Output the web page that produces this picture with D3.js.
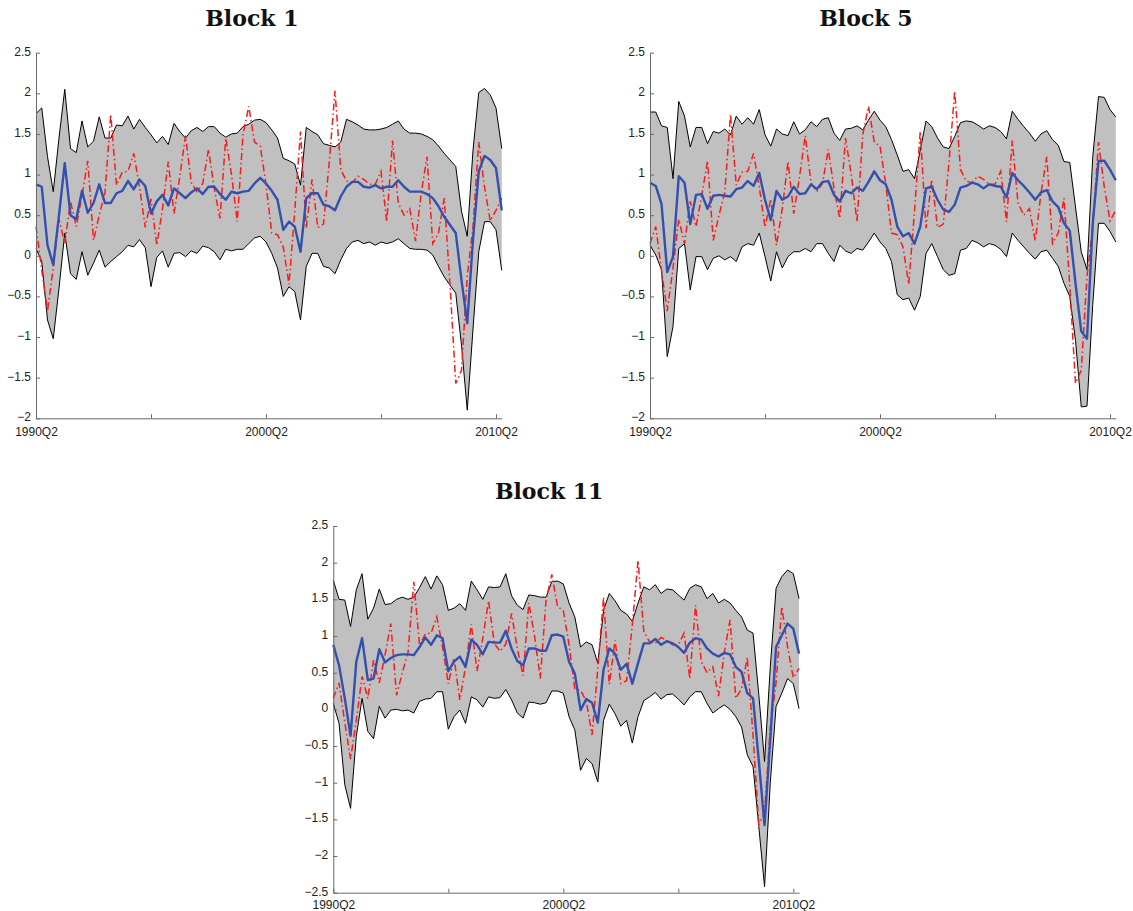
<!DOCTYPE html>
<html>
<head>
<meta charset="utf-8">
<script src="https://cdn.jsdelivr.net/npm/d3@7"></script>
<style>
  body { margin: 0; background: #fff; }
  svg { display: block; }
</style>
</head>
<body>
<div id="chart"></div>
<script>
// quarterly sample: 1990Q2 .. 2010Q3 (82 quarters)
const nQuarters = 82;
const tickIndex = [0, 20, 40, 60, 80];
const tickLabels = ["1990Q2", "", "2000Q2", "", "2010Q2"];

// realised series, 1990Q2 .. 2010Q4 (Block 1 is plotted one quarter ahead)
const actual = [
  0.15, 0.36, -0.18, -0.68, -0.15, 0.45, 0.15, 0.67, 0.36, 0.74,
  1.17, 0.19, 0.50, 0.78, 1.74, 0.87, 1.03, 1.04, 1.26, 0.85,
  0.35, 0.70, 0.13, 0.58, 1.16, 0.52, 0.97, 1.48, 0.90, 0.79,
  0.89, 1.31, 0.83, 0.46, 1.45, 1.00, 0.42, 1.49, 1.84, 1.40,
  1.35, 0.88, 0.28, 0.26, 0.11, -0.35, 0.55, 1.53, 0.34, 0.94,
  0.35, 0.39, 1.15, 2.03, 1.06, 0.92, 0.90, 0.98, 0.94, 0.88,
  0.88, 1.04, 0.42, 1.42, 0.65, 0.50, 0.58, 0.18, 0.77, 1.22,
  0.15, 0.28, 0.71, -0.36, -1.57, -1.41, -0.25, 0.36, 1.40, 0.85,
  0.43, 0.56, 0.71
];

// Block 1
const upper1 = [
  1.75, 1.82, 1.22, 0.79, 1.45, 2.05, 1.32, 1.27, 1.66, 1.34,
  1.41, 1.71, 1.45, 1.45, 1.61, 1.60, 1.72, 1.56, 1.68, 1.58,
  1.49, 1.39, 1.47, 1.37, 1.63, 1.53, 1.45, 1.54, 1.58, 1.53,
  1.59, 1.59, 1.51, 1.46, 1.50, 1.51, 1.59, 1.62, 1.67, 1.68,
  1.64, 1.55, 1.45, 1.20, 1.17, 1.13, 0.87, 1.58, 1.53, 1.49,
  1.38, 1.36, 1.34, 1.40, 1.68, 1.65, 1.61, 1.56, 1.55, 1.55,
  1.56, 1.58, 1.62, 1.66, 1.56, 1.51, 1.51, 1.50, 1.47, 1.43,
  1.35, 1.26, 1.18, 1.10, 0.55, 0.24, 1.30, 2.01, 2.06, 1.98,
  1.82, 1.32
];
const lower1 = [
  0.09, -0.07, -0.79, -1.02, -0.40, 0.28, -0.22, -0.29, 0.05, -0.24,
  -0.09, 0.07, -0.14, -0.07, -0.01, 0.05, 0.13, 0.11, 0.20, 0.10,
  -0.38, -0.02, 0.06, -0.14, 0.03, 0.04, -0.01, 0.06, 0.03, 0.12,
  0.10, 0.05, -0.05, 0.08, 0.06, 0.08, 0.08, 0.15, 0.22, 0.24,
  0.17, 0.03, -0.15, -0.50, -0.38, -0.44, -0.79, -0.13, 0.03, 0.03,
  -0.13, -0.15, -0.22, -0.05, 0.09, 0.17, 0.19, 0.15, 0.17, 0.13,
  0.17, 0.15, 0.17, 0.21, 0.15, 0.09, 0.08, 0.08, 0.07, 0.01,
  -0.13, -0.26, -0.36, -0.46, -1.10, -1.90, -0.90, 0.05, 0.42, 0.42,
  0.32, -0.18
];
const median1 = [
  0.88, 0.85, 0.13, -0.11, 0.50, 1.14, 0.50, 0.45, 0.80, 0.53,
  0.65, 0.88, 0.65, 0.65, 0.77, 0.80, 0.92, 0.82, 0.94, 0.86,
  0.52, 0.67, 0.75, 0.62, 0.83, 0.77, 0.71, 0.78, 0.83, 0.76,
  0.85, 0.85, 0.76, 0.69, 0.79, 0.77, 0.79, 0.80, 0.89, 0.96,
  0.89, 0.80, 0.69, 0.32, 0.42, 0.36, 0.05, 0.71, 0.77, 0.77,
  0.63, 0.61, 0.56, 0.73, 0.85, 0.91, 0.91, 0.85, 0.84, 0.87,
  0.83, 0.85, 0.85, 0.93, 0.85, 0.79, 0.79, 0.79, 0.76, 0.71,
  0.61, 0.48, 0.38, 0.28, -0.30, -0.83, 0.20, 1.04, 1.23, 1.18,
  1.08, 0.56
];

// Block 5
const upper5 = [
  1.77, 1.77, 1.60, 1.58, 0.95, 1.90, 1.72, 1.34, 1.58, 1.58,
  1.38, 1.53, 1.51, 1.56, 1.49, 1.72, 1.62, 1.70, 1.62, 1.80,
  1.49, 1.35, 1.56, 1.50, 1.48, 1.65, 1.50, 1.55, 1.65, 1.59,
  1.68, 1.70, 1.51, 1.42, 1.56, 1.57, 1.60, 1.55, 1.67, 1.78,
  1.67, 1.59, 1.43, 1.24, 1.04, 1.06, 0.95, 1.30, 1.66, 1.59,
  1.45, 1.34, 1.32, 1.47, 1.64, 1.66, 1.65, 1.61, 1.56, 1.60,
  1.58, 1.53, 1.44, 1.78, 1.68, 1.59, 1.51, 1.41, 1.50, 1.54,
  1.43, 1.36, 1.16, 1.15, 0.60, 0.05, -0.17, 1.22, 1.96, 1.95,
  1.80, 1.71
];
const lower5 = [
  0.13, 0.01, -0.17, -1.24, -0.87, 0.09, 0.15, -0.42, -0.01, -0.01,
  -0.17, -0.03, 0.00, -0.05, -0.01, -0.07, 0.11, 0.15, 0.13, 0.28,
  -0.01, -0.31, 0.05, -0.15, -0.01, 0.05, 0.05, 0.09, 0.05, 0.15,
  0.15, 0.03, -0.07, 0.13, 0.06, 0.03, 0.09, 0.07, 0.17, 0.28,
  0.17, 0.09, -0.07, -0.48, -0.54, -0.52, -0.67, -0.50, 0.03, 0.15,
  -0.01, -0.17, -0.24, -0.22, 0.07, 0.09, 0.19, 0.16, 0.11, 0.15,
  0.13, 0.08, -0.01, 0.28, 0.19, 0.11, 0.03, -0.04, 0.05, 0.07,
  -0.03, -0.13, -0.34, -0.50, -1.04, -1.86, -1.85, -0.60, 0.40, 0.40,
  0.30, 0.17
];
const median5 = [
  0.90, 0.86, 0.64, -0.20, -0.01, 0.98, 0.90, 0.39, 0.75, 0.76,
  0.58, 0.74, 0.75, 0.74, 0.73, 0.82, 0.84, 0.92, 0.86, 1.02,
  0.69, 0.44, 0.80, 0.69, 0.73, 0.85, 0.76, 0.77, 0.88, 0.82,
  0.91, 0.92, 0.75, 0.67, 0.80, 0.77, 0.84, 0.80, 0.91, 1.04,
  0.93, 0.88, 0.69, 0.36, 0.24, 0.28, 0.15, 0.36, 0.83, 0.85,
  0.69, 0.57, 0.54, 0.63, 0.84, 0.86, 0.90, 0.88, 0.83, 0.88,
  0.86, 0.85, 0.72, 1.02, 0.93, 0.86, 0.78, 0.69, 0.78, 0.81,
  0.67, 0.60, 0.40, 0.31, -0.34, -0.93, -1.02, 0.40, 1.17, 1.17,
  1.06, 0.93
];

// Block 11
const upper11 = [
  1.76, 1.50, 1.49, 1.13, 1.63, 1.85, 1.23, 1.38, 1.64, 1.43,
  1.44, 1.50, 1.53, 1.50, 1.53, 1.66, 1.81, 1.64, 1.82, 1.70,
  1.35, 1.38, 1.44, 1.35, 1.75, 1.63, 1.50, 1.67, 1.66, 1.67,
  1.85, 1.55, 1.42, 1.36, 1.56, 1.55, 1.53, 1.53, 1.74, 1.75,
  1.71, 1.45, 1.26, 0.85, 0.92, 0.88, 0.63, 1.35, 1.58, 1.48,
  1.35, 1.30, 1.20, 1.45, 1.67, 1.63, 1.70, 1.58, 1.64, 1.63,
  1.56, 1.49, 1.65, 1.70, 1.67, 1.51, 1.58, 1.45, 1.50, 1.45,
  1.35, 1.26, 1.08, 1.04, 0.20, -0.71, 0.58, 1.65, 1.81, 1.90,
  1.85, 1.51
];
const lower11 = [
  0.08, -0.19, -1.03, -1.35, -0.37, 0.15, -0.30, -0.40, 0.04, -0.12,
  -0.01, 0.00, -0.02, -0.01, -0.05, 0.11, 0.14, 0.15, 0.24, 0.24,
  -0.27, -0.10, -0.01, -0.19, 0.17, 0.13, 0.03, 0.17, 0.15, 0.16,
  0.27, 0.13, -0.05, -0.12, 0.10, 0.09, 0.07, 0.09, 0.25, 0.25,
  0.22, -0.10, -0.28, -0.83, -0.67, -0.74, -0.99, -0.15, 0.07, -0.06,
  -0.23, -0.15, -0.46, -0.10, 0.12, 0.17, 0.23, 0.14, 0.20, 0.21,
  0.14, 0.06, 0.17, 0.24, 0.24, 0.08, -0.05, 0.01, 0.06, 0.00,
  -0.10, -0.24, -0.62, -0.78, -1.60, -2.42, -1.00, 0.04, 0.22, 0.42,
  0.35, 0.01
];
const median11 = [
  0.88, 0.60, 0.15, -0.36, 0.65, 0.97, 0.40, 0.42, 0.82, 0.64,
  0.70, 0.74, 0.75, 0.75, 0.74, 0.85, 0.98, 0.88, 1.01, 0.97,
  0.52, 0.65, 0.72, 0.58, 0.95, 0.88, 0.75, 0.92, 0.91, 0.91,
  1.07, 0.83, 0.66, 0.60, 0.83, 0.83, 0.80, 0.80, 1.01, 1.02,
  0.99, 0.65, 0.49, -0.01, 0.14, 0.09, -0.18, 0.54, 0.83, 0.76,
  0.54, 0.62, 0.35, 0.63, 0.90, 0.90, 0.96, 0.88, 0.93, 0.90,
  0.85, 0.77, 0.91, 0.97, 0.95, 0.83, 0.76, 0.72, 0.77, 0.75,
  0.58, 0.51, 0.22, 0.15, -0.70, -1.58, -0.40, 0.85, 1.01, 1.17,
  1.10, 0.76
];

// layout of the three axes (pixels)
const panels = [
  { title: "Block 1",  upper: upper1,  lower: lower1,  median: median1,  lead: 1,
    left: 36,    top: 52.7, bottom: 418.3, yDomain: [-2, 2.5],   titleY: 26,  xPad: 9.5 },
  { title: "Block 5",  upper: upper5,  lower: lower5,  median: median5,  lead: 0,
    left: 650,   top: 52.7, bottom: 418.3, yDomain: [-2, 2.5],   titleY: 26,  xPad: 9.5 },
  { title: "Block 11", upper: upper11, lower: lower11, median: median11, lead: 0,
    left: 333.3, top: 526,  bottom: 892.7, yDomain: [-2.5, 2.5], titleY: 499, xPad: 7.3 }
];
const stepPx = 5.75;

const width = 1133, height = 911;
const svg = d3.select("#chart").append("svg")
  .attr("width", width)
  .attr("height", height)
  .attr("viewBox", `0 0 ${width} ${height}`);

const fmt = v => (v < 0 ? "\u2212" : "") + d3.format("")(Math.abs(v));

panels.forEach(p => {
  const x = d3.scaleLinear()
    .domain([0, nQuarters - 1])
    .range([p.left, p.left + stepPx * (nQuarters - 1)]);
  const y = d3.scaleLinear().domain(p.yDomain).range([p.bottom, p.top]);

  const rows = d3.range(nQuarters).map(i => ({
    i: i,
    up: p.upper[i],
    lo: p.lower[i],
    med: p.median[i],
    act: actual[i + p.lead]
  }));

  const g = svg.append("g");

  // band
  g.append("path")
    .datum(rows)
    .attr("fill", "#c0c0c0")
    .attr("d", d3.area().x(d => x(d.i)).y0(d => y(d.lo)).y1(d => y(d.up)));

  ["up", "lo"].forEach(k => {
    g.append("path")
      .datum(rows)
      .attr("fill", "none")
      .attr("stroke", "#000")
      .attr("stroke-width", 1)
      .attr("d", d3.line().x(d => x(d.i)).y(d => y(d[k])));
  });

  // realised
  g.append("path")
    .datum(rows)
    .attr("fill", "none")
    .attr("stroke", "#ff1a1a")
    .attr("stroke-width", 1.5)
    .attr("stroke-dasharray", "7,3,1.5,3")
    .attr("d", d3.line().x(d => x(d.i)).y(d => y(d.act)));

  // median
  g.append("path")
    .datum(rows)
    .attr("fill", "none")
    .attr("stroke", "#3450ad")
    .attr("stroke-width", 2.4)
    .attr("stroke-linejoin", "round")
    .attr("d", d3.line().x(d => x(d.i)).y(d => y(d.med)));

  // axes
  const yTicks = d3.range(p.yDomain[0], p.yDomain[1] + 0.01, 0.5);
  const yAxis = g.append("g")
    .attr("transform", `translate(${p.left},0)`)
    .call(d3.axisLeft(y).tickValues(yTicks).tickFormat(fmt)
      .tickSizeInner(-4).tickSizeOuter(0).tickPadding(5));
  yAxis.selectAll(".tick text").attr("dy", "0.2em");

  const xAxis = g.append("g")
    .attr("transform", `translate(0,${p.bottom})`)
    .call(d3.axisBottom(x).tickValues(tickIndex).tickFormat((d, i) => tickLabels[i])
      .tickSizeInner(-4).tickSizeOuter(0).tickPadding(p.xPad));

  [yAxis, xAxis].forEach(a => {
    a.select(".domain").attr("stroke", "#6a6a6a");
    a.selectAll(".tick line").attr("stroke", "#6a6a6a");
    a.selectAll("text")
      .attr("fill", "#222")
      .style("font-family", "'Liberation Sans', Arial, sans-serif")
      .style("font-size", "12px");
  });

  // title
  svg.append("text")
    .attr("x", (x.range()[0] + x.range()[1]) / 2 - 17)
    .attr("y", p.titleY)
    .attr("text-anchor", "middle")
    .style("font-family", "'DejaVu Serif', serif")
    .style("font-weight", "bold")
    .style("font-size", "22px")
    .attr("fill", "#111")
    .text(p.title);
});
</script>
</body>
</html>
